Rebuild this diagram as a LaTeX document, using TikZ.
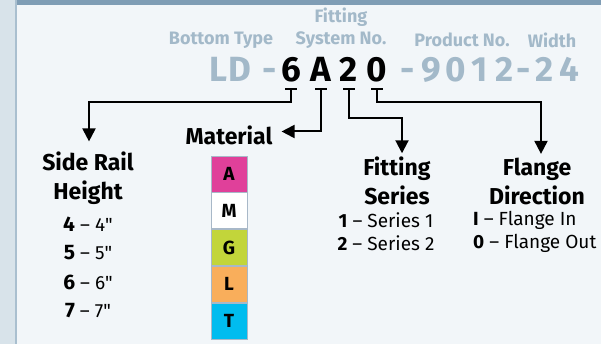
\documentclass[tikz,border=0pt]{standalone}
\usepackage{fontspec}
\setmainfont{Fira Sans}
\newfontfamily\inchfont{Fira Sans}[Ligatures=TeXOff]
\usetikzlibrary{arrows.meta,positioning}
\definecolor{pagebg}{HTML}{F2F6F9}
\definecolor{stripbg}{HTML}{D8E3EA}
\definecolor{stripline}{HTML}{A9BFCF}
\definecolor{bandblue}{HTML}{7F9DB5}
\definecolor{codegray}{HTML}{A3B9C9}
\definecolor{boxline}{HTML}{A8B8C8}
\definecolor{matA}{HTML}{E0409A}
\definecolor{matM}{HTML}{FFFFFF}
\definecolor{matG}{HTML}{C2D53A}
\definecolor{matL}{HTML}{F9AE5B}
\definecolor{matT}{HTML}{00BCEF}
\tikzset{
  graylbl/.style={font=\bfseries\fontsize{18}{20}\selectfont, text=codegray, inner sep=0pt},
  codechar/.style={font=\bfseries\fontsize{35}{37}\selectfont, anchor=base, inner sep=0pt},
  heading/.style={font=\bfseries\fontsize{23}{29}\selectfont, align=center, inner sep=3pt},
  item/.style={font=\fontsize{19}{21}\selectfont, inner sep=0pt},
  matbox/.style={draw=boxline, line width=0.8pt, minimum width=36pt, minimum height=36pt,
    inner sep=0pt, font=\bfseries\fontsize{19}{21}\selectfont},
  link/.style={line width=2pt, {Bar[width=12pt]}-{Triangle[length=13pt,width=13pt]}},
}
\newcommand{\inch}{{\inchfont"}}
\begin{document}
\begin{tikzpicture}[x=1pt, y=-1pt]
        \useasboundingbox (0,0) rectangle (601,344);
        % Background, left strip and top band
        \fill[pagebg] (0,0) rectangle (601,344);
        \fill[stripbg] (0,0) rectangle (15,344);
        \fill[stripline] (15,0) rectangle (17,344);
        \fill[bandblue] (17,0) rectangle (601,5);

        % Field names
        \node[graylbl] (fitting) at (341,17) {Fitting};
        \node[graylbl] (sysno) at (341,40) {System No.};
        \node[graylbl] (bottom) at (221,40) {Bottom Type};
        \node[graylbl] (prodno) at (462,40) {Product No.};
        \node[graylbl] (width) at (552,40) {Width};

        % Part number, one character per node
        \foreach \x/\ch/\n/\col in {218/L/1/codegray, 240/D/2/codegray, 270/-/3/codegray,
            291/6/4/black, 321/A/5/black, 349/2/6/black, 377/0/7/black,
            408/-/8/codegray, 431/9/9/codegray, 456/0/10/codegray, 480/1/11/codegray,
            505/2/12/codegray, 524/-/13/codegray, 545/2/14/codegray, 569/4/15/codegray}
          \node[codechar, text=\col] (k\n) at (\x,82) {\ch};
        \coordinate (barline) at (0,88);

        % Headings
        \node[heading] (side) at (88,178) {Side Rail\\Height};
        \node[heading] (mat) at (229,135) {Material};
        \node[heading] (fit) at (397,181) {Fitting\\Series};
        \node[heading] (flange) at (537,181) {Flange\\Direction};

        % Side rail heights
        \foreach \v/\y in {4/224, 5/253, 6/282, 7/311}
          \node[item] (h\v) at (88,\y) {{\bfseries\fontsize{21}{23}\selectfont\v} -- \v\inch};

        % Material boxes
        \node[matbox, fill=matA] (mA) at (229,174) {A};
        \node[matbox, fill=matM, below=0pt of mA] (mM) {M};
        \node[matbox, fill=matG, below=0pt of mM] (mG) {G};
        \node[matbox, fill=matL, below=0pt of mG] (mL) {L};
        \node[matbox, fill=matT, below=0pt of mL] (mT) {T};

        % Fitting series
        \node[item] (s1) at (386,220) {\textbf{1} -- Series 1};
        \node[item] (s2) at (386,243) {\textbf{2} -- Series 2};

        % Flange direction
        \node[item, anchor=west] (fin) at (473,220) {\textbf{I} -- Flange In};
        \node[item, anchor=west] (fout) at (473,243) {\textbf{0} -- Flange Out};

        % Connectors
        \draw[link] (k4 |- barline) -- ++(0,14) -| ([xshift=1pt,yshift=7pt]side.north);
        \draw[link] (k5 |- barline) |- ([xshift=6pt,yshift=3.5pt]mat.east);
        \draw[link] (k6 |- barline) -- ++(0,30) -| ([xshift=5pt,yshift=0.5pt]fit.north);
        \draw[link] (k7 |- barline) -- ++(0,14) -| ([xshift=4pt,yshift=0.5pt]flange.north);

      \end{tikzpicture}
\end{document}
